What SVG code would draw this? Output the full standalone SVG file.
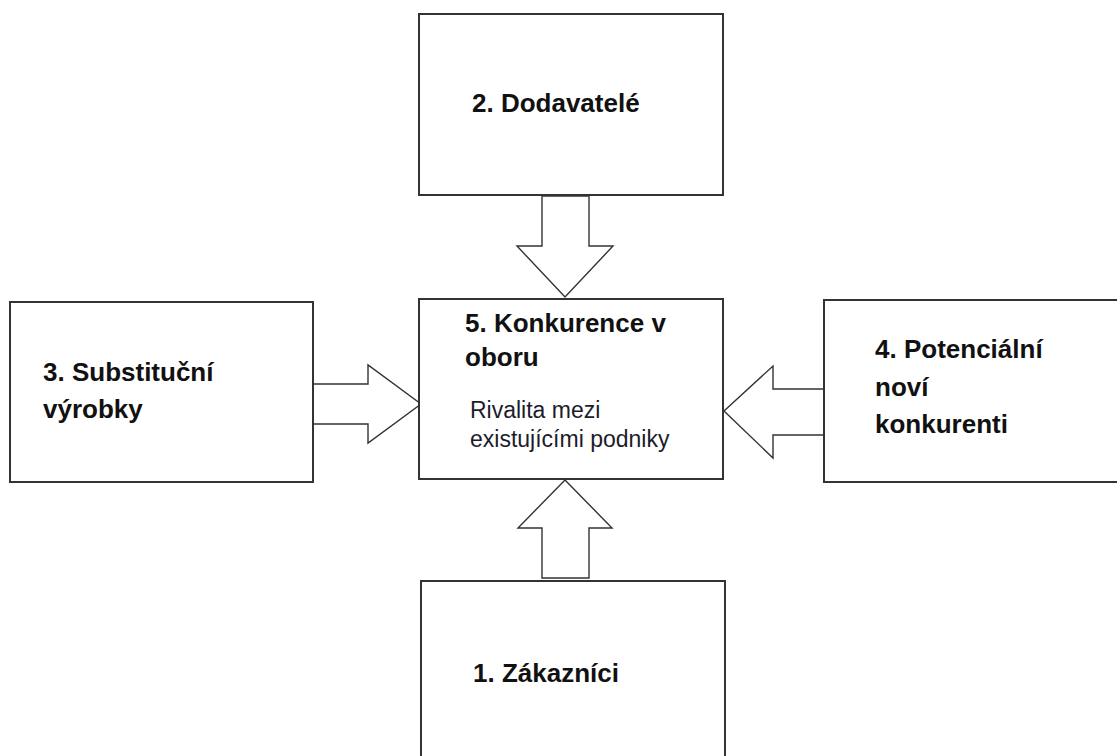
<svg xmlns="http://www.w3.org/2000/svg" width="1117" height="756" viewBox="0 0 1117 756">
<style>
.box{fill:#fff;stroke:#333;stroke-width:2}
.arr{fill:#fff;stroke:#333;stroke-width:1.4;stroke-linejoin:miter}
.t{font-family:"Liberation Sans",Arial,sans-serif;font-weight:bold;font-size:26px;fill:#111}
.r{font-family:"Liberation Sans",Arial,sans-serif;font-size:23px;fill:#1c1c2a}
</style>
<rect width="1117" height="756" fill="#fff"/>
<g id="connectors">
<polygon class="arr" points="542,196 589,196 589,246 613,246 565,297 517,246 542,246"/>
<polygon class="arr" points="565,480 612,528 589,528 589,578 542,578 542,528 518,528"/>
<polygon class="arr" points="313,384 368,384 368,365 421,404 368,443 368,424 313,424"/>
<polygon class="arr" points="824,389 773,389 773,366 724,411 773,458 773,435 824,435"/>
</g>
<g id="n2">
<rect class="box" x="419" y="14" width="304" height="181"/>
<text class="t" x="472" y="112">2. Dodavatelé</text>
</g>
<g id="n5">
<rect class="box" x="419" y="299" width="304" height="180"/>
<text class="t" x="465" y="332">5. Konkurence v</text>
<text class="t" x="465" y="366">oboru</text>
<text class="r" x="470" y="418">Rivalita mezi</text>
<text class="r" x="470" y="447">existujícími podniky</text>
</g>
<g id="n3">
<rect class="box" x="10" y="302" width="303" height="180"/>
<text class="t" x="43" y="381">3. Substituční</text>
<text class="t" x="43" y="418">výrobky</text>
</g>
<g id="n4">
<rect class="box" x="824" y="300" width="320" height="182"/>
<text class="t" x="875" y="358">4. Potenciální</text>
<text class="t" x="875" y="396">noví</text>
<text class="t" x="875" y="433">konkurenti</text>
</g>
<g id="n1">
<rect class="box" x="421" y="581" width="304" height="200"/>
<text class="t" x="473" y="682">1. Zákazníci</text>
</g>
</svg>
